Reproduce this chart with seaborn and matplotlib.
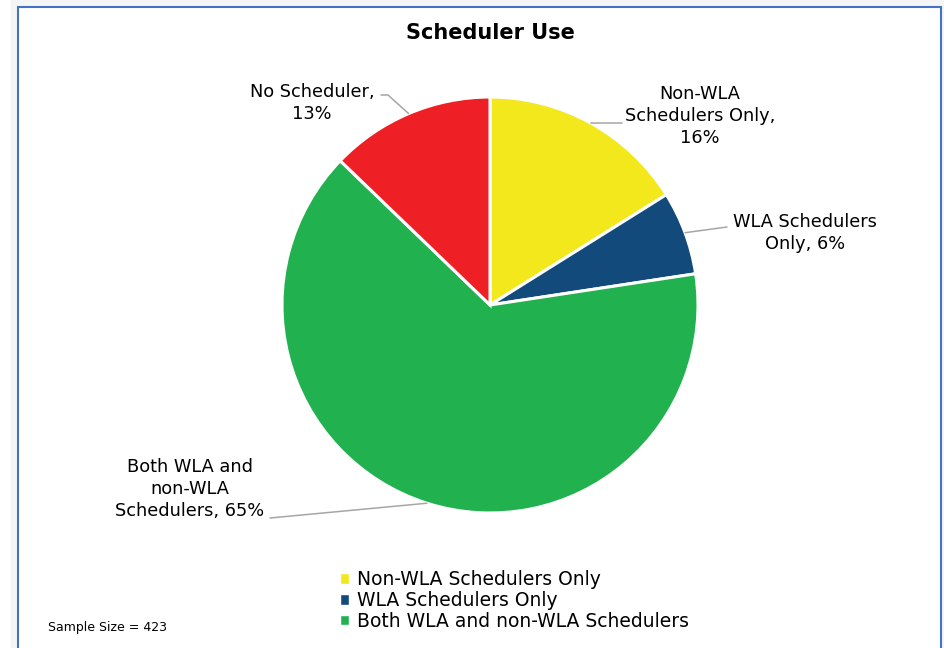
import numpy as np
import seaborn as sns
import matplotlib.pyplot as plt
from matplotlib.patches import Rectangle

# slice data, clockwise from 12 o'clock
categories = ["Non-WLA Schedulers Only", "WLA Schedulers Only",
              "Both WLA and non-WLA Schedulers", "No Scheduler"]
shares = [16.1, 6.5, 64.6, 12.8]
pct_text = ["16%", "6%", "65%", "13%"]
slice_labels = ["Non-WLA\nSchedulers Only,\n16%", "WLA Schedulers\nOnly, 6%",
                "Both WLA and\nnon-WLA\nSchedulers, 65%", "No Scheduler,\n13%"]
colors = ["#F2E81C", "#124A7C", "#21B24F", "#EE2026"]
sample_size = 423

sns.set_theme(style="white")
plt.rcParams['font.family'] = ['DejaVu Sans']

fig = plt.figure(figsize=(9.45, 6.48), dpi=100)
# axes in pixel units (y measured from bottom)
ax = fig.add_axes([0, 0, 1, 1])

# frame with soft shadow
for i in range(8):
    ax.add_patch(Rectangle((18 - i, -20), 923 + 2 * i, 661 + i, fill=False,
                           edgecolor='black', alpha=0.02, linewidth=1.5, zorder=0))
ax.add_patch(Rectangle((18, -20), 923, 661, facecolor='white',
                       edgecolor='#4472C4', linewidth=1.5, zorder=1))

cx, cy, r = 490, 343, 208
wedges, _ = ax.pie(shares, colors=colors, startangle=90, counterclock=False,
                   center=(cx, cy), radius=r, frame=True,
                   wedgeprops=dict(edgecolor='white', linewidth=2.2, zorder=2))
ax.set_xlim(0, 945)
ax.set_ylim(0, 648)
ax.set_aspect('equal')
ax.axis('off')

# label positions (text anchor) and leader line bends
label_pos = [(700, 532), (805, 415), (190, 159), (312, 545)]
line_end = [(622, 525), (727, 421), (270, 130), (381, 553)]
line_mid = [None, None, None, (388, 553)]
for w, txt, lp, le, lm in zip(wedges, slice_labels, label_pos, line_end, line_mid):
    ang = np.deg2rad((w.theta1 + w.theta2) / 2)
    sx, sy = cx + r * np.cos(ang), cy + r * np.sin(ang)
    xs = [sx] + ([lm[0]] if lm else []) + [le[0]]
    ys = [sy] + ([lm[1]] if lm else []) + [le[1]]
    ax.plot(xs, ys, color='#A6A6A6', linewidth=1.1, zorder=3)
    ax.text(lp[0], lp[1], txt, ha='center', va='center', fontsize=12.8,
            color='black', linespacing=1.3, zorder=4)

ax.text(490, 615, "Scheduler Use", ha='center', va='center', fontsize=15,
        fontweight='bold', color='black', zorder=4)

handles = [Rectangle((0, 0), 1, 1, facecolor=c) for c in colors[:3]]
leg = ax.legend(handles, categories[:3], loc='upper left',
                bbox_to_anchor=(340 / 945, 78 / 648),
                frameon=False, fontsize=13.5, handlelength=0.5, handleheight=0.5,
                handletextpad=0.4, labelspacing=0.1, borderpad=0, borderaxespad=0)
for t in leg.get_texts():
    t.set_color('black')

ax.text(48, 20, f"Sample Size = {sample_size}", ha='left', va='center',
        fontsize=9, color='black', zorder=4)

fig.savefig("out.png", dpi=100)
